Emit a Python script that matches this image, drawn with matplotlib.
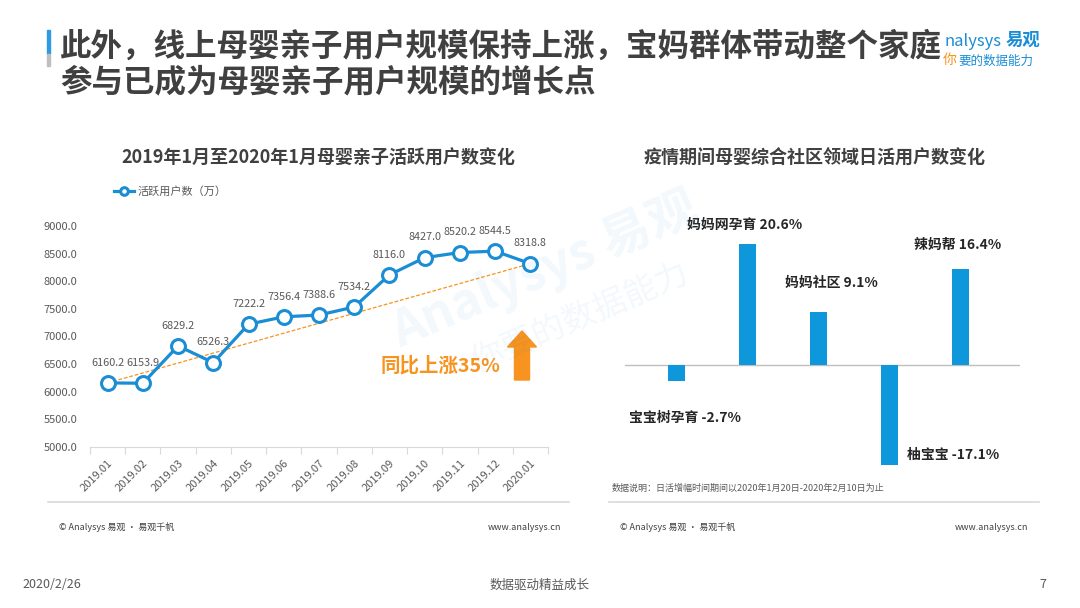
import numpy as np
import matplotlib
matplotlib.use("Agg")
import matplotlib.pyplot as plt
from matplotlib.patches import Polygon, Rectangle

plt.rcParams['font.family'] = ['Noto Sans CJK SC', 'DejaVu Sans']

# ----------------------------
# DATA
# ----------------------------
months = ["2019.01", "2019.02", "2019.03", "2019.04", "2019.05", "2019.06", "2019.07",
          "2019.08", "2019.09", "2019.10", "2019.11", "2019.12", "2020.01"]
active_users = [6160.2, 6153.9, 6829.2, 6526.3, 7222.2, 7356.4, 7388.6,
                7534.2, 8116.0, 8427.0, 8520.2, 8544.5, 8318.8]

apps = ["宝宝树孕育", "妈妈网孕育", "妈妈社区", "柚宝宝", "辣妈帮"]
dau_change = [-2.7, 20.6, 9.1, -17.1, 16.4]

yoy_text = "同比上涨35%"

# ----------------------------
# STYLE
# ----------------------------
W, H = 1080, 608
BLUE = "#1a8dd5"
BAR_BLUE = "#0f97dc"
ORANGE = "#f7931e"
GRAY = "#595959"
DARK = "#404040"


def fx(x):
    return x / W


def fy(y):
    return 1 - y / H


fig = plt.figure(figsize=(W / 100, H / 100), dpi=100)
fig.patch.set_facecolor("white")

# ----------------------------
# HEADER
# ----------------------------
fig.patches.append(Rectangle((fx(47), fy(54)), fx(3), 24 / H, transform=fig.transFigure,
                             color="#2e9be0", zorder=5))
fig.patches.append(Rectangle((fx(47), fy(66)), fx(3), 12 / H, transform=fig.transFigure,
                             color="#bfbfbf", zorder=5))
fig.text(fx(60), fy(47), "此外，线上母婴亲子用户规模保持上涨，宝妈群体带动整个家庭",
         fontsize=22.7, fontweight="bold", color=DARK, va="center", ha="left")
fig.text(fx(60), fy(82), "参与已成为母婴亲子用户规模的增长点",
         fontsize=22.7, fontweight="bold", color=DARK, va="center", ha="left")

# logo
fig.text(fx(944), fy(41), "nalysys", fontsize=12, color=BLUE, va="center", ha="left",
         fontstyle="italic")
fig.text(fx(1006), fy(40), "易观", fontsize=12.5, color=BLUE, fontweight="bold",
         va="center", ha="left")
fig.text(fx(943), fy(60), "你", fontsize=10, color=ORANGE, va="center", ha="left")
fig.text(fx(958), fy(61), "要的数据能力", fontsize=9, color=BLUE, va="center", ha="left")

# watermark
fig.text(fx(545), fy(270), "Analysys 易观", fontsize=36, fontweight="bold",
         color="#1a8dd5", alpha=0.06, rotation=23, ha="center", va="center", zorder=10)
fig.text(fx(580), fy(318), "你要的数据能力", fontsize=24, color="#1a8dd5", alpha=0.06,
         rotation=23, ha="center", va="center", zorder=10)

# ----------------------------
# LEFT CHART: line
# ----------------------------
fig.text(fx(318), fy(158), "2019年1月至2020年1月母婴亲子活跃用户数变化",
         fontsize=13, fontweight="bold", color=DARK, ha="center", va="center")

ax1 = fig.add_axes([fx(90), fy(447), fx(548) - fx(90), (447 - 226) / H])
x = np.arange(len(months))
ax1.plot(x, active_users, color=BLUE, lw=2.3, marker="o", markersize=10,
         markerfacecolor="white", markeredgecolor=BLUE, markeredgewidth=2.2,
         zorder=3, label="活跃用户数（万）")
ax1.plot([x[0], x[-1]], [active_users[0], active_users[-1]], color=ORANGE,
         lw=0.9, ls=(0, (3, 1.5)), zorder=2)
for xi, v in zip(x, active_users):
    ax1.annotate(f"{v:.1f}", (xi, v), xytext=(0, 11), textcoords="offset points",
                 ha="center", va="bottom", fontsize=7.8, color=GRAY, zorder=4)

ax1.set_xlim(-0.5, len(months) - 0.5)
ax1.set_ylim(5000, 9000)
ax1.set_yticks(np.arange(5000, 9001, 500))
ax1.set_yticklabels([f"{t:.1f}" for t in np.arange(5000, 9001, 500)])
ax1.set_xticks(x)
ax1.set_xticklabels(months, rotation=45, ha="right", rotation_mode="anchor")
ax1.set_xticks(np.arange(-0.5, len(months)), minor=True)
ax1.tick_params(axis="y", length=0, pad=9, labelsize=8, labelcolor=GRAY)
ax1.tick_params(axis="x", which="major", length=0, pad=8, labelsize=8, labelcolor=GRAY)
ax1.tick_params(axis="x", which="minor", length=5, color="#d9d9d9", width=0.8)
for s in ["top", "right", "left"]:
    ax1.spines[s].set_visible(False)
ax1.spines["bottom"].set_color("#d9d9d9")
ax1.patch.set_alpha(0)

ax1.legend(loc="upper left", bbox_to_anchor=(fx(110), fy(182)), bbox_transform=fig.transFigure,
           frameon=False, fontsize=8, labelcolor=GRAY, handlelength=1.8, markerscale=0.55,
           handletextpad=0.3, borderaxespad=0)

# text + arrow
fig.text(fx(440), fy(366), yoy_text, fontsize=14, fontweight="bold", color=ORANGE,
         ha="center", va="center")
cx, top, bot = 522, 331, 380
arrow_px = [(cx - 7.5, bot), (cx + 7.5, bot), (cx + 7.5, top + 16), (cx + 14.5, top + 16),
            (cx, top), (cx - 14.5, top + 16), (cx - 7.5, top + 16)]
fig.patches.append(Polygon([(fx(a), fy(b)) for a, b in arrow_px], closed=True,
                           transform=fig.transFigure, color=ORANGE, zorder=5))

# ----------------------------
# RIGHT CHART: bars
# ----------------------------
fig.text(fx(815), fy(158), "疫情期间母婴综合社区领域日活用户数变化",
         fontsize=13, fontweight="bold", color=DARK, ha="center", va="center")

ax2 = fig.add_axes([fx(625), fy(482), fx(1020) - fx(625), (482 - 224.6) / H])
xb = np.arange(len(apps))
ax2.bar(xb, dau_change, width=0.24, color=BAR_BLUE, zorder=2)
ax2.axhline(0, color="#bfbfbf", lw=1, zorder=1)
ax2.set_xlim(-0.72, 4.83)
ax2.set_ylim(-20, 24)
ax2.axis("off")

# label offsets (pixels) relative to bar end
label_offsets = [(9, -37), (-3, 20), (13, 29), (63, 10), (-3, 24)]
for xi, v, name, off in zip(xb, dau_change, apps, label_offsets):
    ax2.annotate(f"{name} {v:.1f}%", (xi, v), xytext=off, textcoords="offset pixels",
                 ha="center", va="center", fontsize=10, fontweight="bold", color="#262626")

fig.text(fx(612), fy(488), "数据说明：日活增幅时间期间以2020年1月20日-2020年2月10日为止",
         fontsize=6.5, color=GRAY, ha="left", va="center")

# ----------------------------
# FOOTERS
# ----------------------------
for x0, x1 in [(48, 569), (609, 1039)]:
    fig.add_artist(plt.Line2D([fx(x0), fx(x1)], [fy(502), fy(502)], color="#d9d9d9", lw=1.2))
for xl, xr in [(59, 561), (620, 1028)]:
    fig.text(fx(xl), fy(527), "© Analysys 易观 · 易观千帆", fontsize=6.5, color=DARK,
             ha="left", va="center")
    fig.text(fx(xr), fy(527), "www.analysys.cn", fontsize=6.5, color=DARK,
             ha="right", va="center")

fig.text(fx(22), fy(585), "2020/2/26", fontsize=9, color=GRAY, ha="left", va="center")
fig.text(fx(540), fy(585), "数据驱动精益成长", fontsize=9, color=GRAY, ha="center", va="center")
fig.text(fx(1046), fy(585), "7", fontsize=9, color=GRAY, ha="right", va="center")

fig.savefig("out.png", dpi=100)
